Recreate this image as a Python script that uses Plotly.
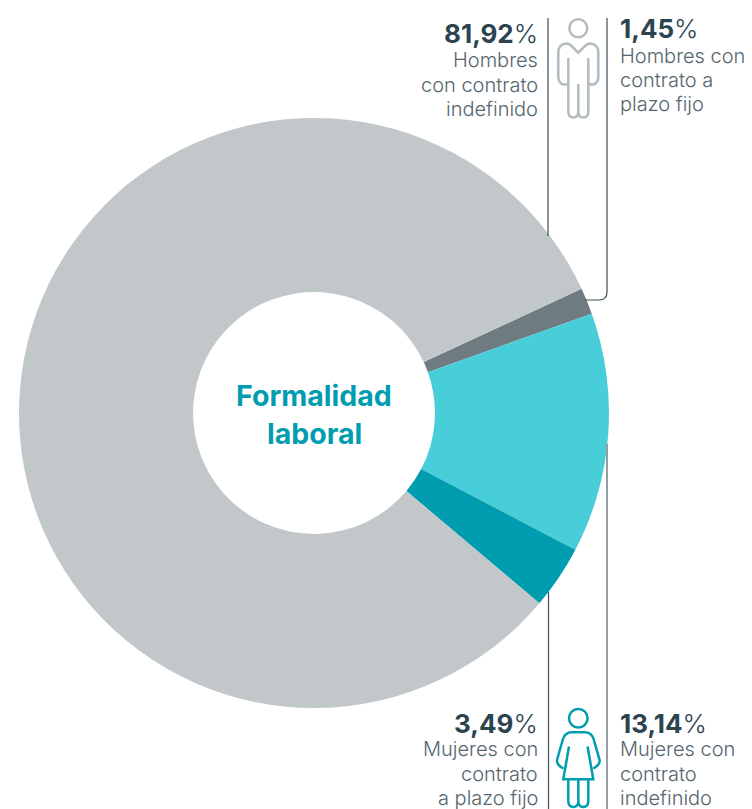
import re
import plotly.graph_objects as go

W, H = 752, 809

# Data
segment_names = ["Hombres con contrato a plazo fijo", "Mujeres con contrato indefinido",
                 "Mujeres con contrato a plazo fijo", "Hombres con contrato indefinido"]
segment_values = [1.45, 13.14, 3.49, 81.92]
segment_colors = ["#6e7b80", "#48ced8", "#009db0", "#c2c8ca"]
percent_labels = ["1,45", "13,14", "3,49", "81,92"]
desc_labels = [["Hombres con", "contrato a", "plazo fijo"],
               ["Mujeres con", "contrato", "indefinido"],
               ["Mujeres con", "contrato", "a plazo fijo"],
               ["Hombres", "con contrato", "indefinido"]]
center_lines = ["Formalidad", "laboral"]

FONT = "Inter"
DARK = "#2b4450"
MID = "#55666e"
TEAL = "#009db0"
LINE_DARK = "#3a4f5a"
LINE_GRAY = "#94a0a3"
ICON_GRAY = "#b4bcbf"


def px(x):
    return x / W


def py(y):
    return 1 - y / H


def path(d):
    def conv(m):
        return f"{px(float(m.group(1))):.5f},{py(float(m.group(2))):.5f}"
    return re.sub(r"(-?[\d.]+),(-?[\d.]+)", conv, d)


def pshape(d, color, width):
    return dict(type="path", xref="paper", yref="paper", path=path(d),
                line=dict(color=color, width=width), fillcolor="rgba(0,0,0,0)", layer="above")


def head(cx, cy, r, color):
    return dict(type="circle", xref="paper", yref="paper", x0=px(cx - r), x1=px(cx + r),
                y0=py(cy + r), y1=py(cy - r), line=dict(color=color, width=2.5), layer="above")


shapes = [
    pshape("M 548,18 L 548,236", LINE_DARK, 1.2),
    pshape("M 607,18 L 607,292 Q 607,300 599,300 L 585,300", LINE_DARK, 1.2),
    pshape("M 548.5,592 L 548.5,809", LINE_DARK, 1.2),
    pshape("M 607,444 L 607,809", LINE_GRAY, 2),
    # man icon
    head(578.3, 28.3, 9, ICON_GRAY),
    pshape("M 568,84 Q 563,85.5 560.5,83 Q 558.3,81 558.3,77 L 558.3,53 Q 558.3,44 566,43.5 "
           "Q 569,43.5 571,45.5 L 578.3,52.7 L 585.5,45.5 Q 587.5,43.5 590.5,43.5 "
           "Q 598.3,44 598.3,53 L 598.3,77 Q 598.3,81 596,83 Q 593.5,85.5 589,84", ICON_GRAY, 2.5),
    pshape("M 568.3,58 L 568.3,111.5 Q 568.5,117.5 573.3,117.5 Q 578.3,117.5 578.3,111.5 L 578.3,84 "
           "M 578.3,111.5 Q 578.3,117.5 583.3,117.5 Q 588.3,117.5 588.3,111.5 L 588.3,58", ICON_GRAY, 2.5),
    # woman icon
    head(578.3, 718.3, 9.3, TEAL),
    pshape("M 569,746.5 L 563.3,779.3 L 593.3,779.3 L 587.6,746.5", TEAL, 2.5),
    pshape("M 563.5,768.5 Q 556.5,765 557,760 L 563,739 Q 565,732.3 572,732.3 L 584.6,732.3 "
           "Q 591.6,732.3 593.6,739 L 599.6,760 Q 600.1,765 593.1,768.5", TEAL, 2.5),
    pshape("M 568.3,780 L 568.3,801 Q 568.3,807 573.3,807 Q 578.3,807 578.3,801 L 578.3,780 "
           "M 578.3,801 Q 578.3,807 583.3,807 Q 588.3,807 588.3,801 L 588.3,780", TEAL, 2.5),
]


def note(x, y, text, size, color, anchor, weight=None):
    return dict(x=px(x), y=py(y), xref="paper", yref="paper", text=text, showarrow=False,
                xanchor=anchor, yanchor="middle", align=anchor, borderpad=0,
                font=dict(family=FONT, size=size, color=color, weight=weight))


# x, percent-y, description-y of each line, anchor for each segment label
annotations = []
label_pos = [(619, 28, [56, 80, 104], "left"), (619, 723, [749, 773.5, 798], "left"),
             (539, 723, [749, 773.5, 798], "right"), (539, 33, [60, 85, 109], "right")]
for pct, desc, (x, yp, yds, anchor) in zip(percent_labels, desc_labels, label_pos):
    annotations.append(note(x, yp, f"<b>{pct}</b>%", 26, DARK, anchor, 300))
    for line, yd in zip(desc, yds):
        annotations.append(note(x, yd, line, 20, MID, anchor, 300))
for line, y in zip(center_lines, [395, 433]):
    annotations.append(note(314, y, f"<b>{line}</b>", 28.5, TEAL, "center"))

fig = go.Figure(go.Pie(
    labels=segment_names, values=segment_values, sort=False, direction="clockwise",
    rotation=65.1, hole=0.41, textinfo="none", hoverinfo="label+percent",
    marker=dict(colors=segment_colors, line=dict(width=0)),
    domain=dict(x=[px(19), px(609)], y=[py(708), py(118)]),
))
fig.update_layout(width=W, height=H, margin=dict(l=0, r=0, t=0, b=0), showlegend=False,
                  paper_bgcolor="white", plot_bgcolor="white",
                  shapes=shapes, annotations=annotations)
fig.write_html("out.html", config=dict(displayModeBar=False),
               post_script="document.body.style.margin='0';document.documentElement.style.overflow='hidden';")
